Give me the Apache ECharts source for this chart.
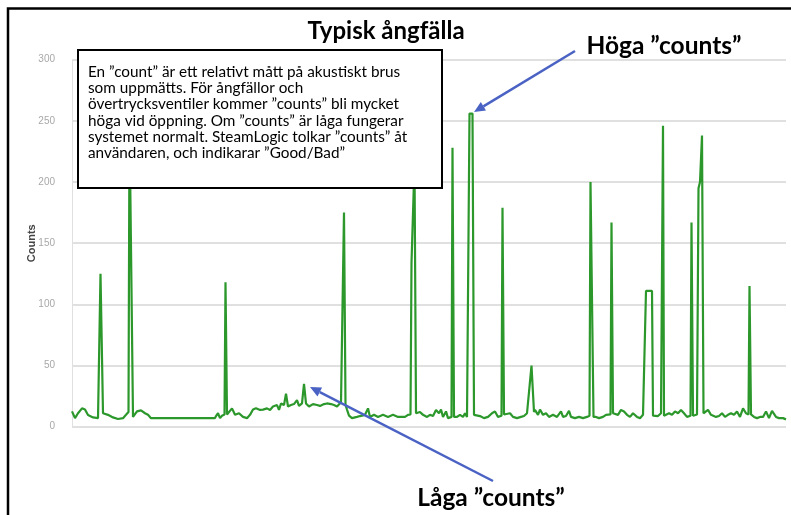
<!DOCTYPE html>
<html>
<head>
<meta charset="utf-8">
<script src="https://cdn.jsdelivr.net/npm/echarts@6/dist/echarts.min.js"></script>
<style>
html,body{margin:0;padding:0;background:#fff;}
#chart{width:791px;height:515px;}
</style>
</head>
<body>
<div id="chart"></div>
<script>
// Sample index (time) and acoustic counts
const sampleTime = [0,3,6,10,13,16,21,26,27.5,28.5,29.8,31,32,36,41,46,51,54,56.5,57.5,59.5,61,62,65,69,73,76,79,143,144,146,148,150,152.5,153.5,155,157,160,163,167,171,175,178,181,184,188,191,195,198,201,205,207,209,212,214,216,219,222,225,227,230,232,234,237,241,245,248,252,255,259,262,265,269,271,272,273.5,275,277,280,285,288,293,295,296,298,302,306,311,316,321,326,328,333,336,338.5,339.5,340.5,342.5,344,345,348,351,355,358,361,364,367,369,371,374,376,379.5,380.5,382,385,388,391,393,395,396.5,397.5,400.5,402,404,408,412,416,420,423,426,429.5,430.5,432,434,438,441,445,449,452,455,456.5,459.5,462,463,466,468,471,474,477,481,485,489,491,494,497,499,503,507,511,515,517.5,518.5,520,521.5,524,527,531,534,538.5,539.5,541,543,546,549,552,555,558,561,565,568,571,573,574,580,581,583,586,589,590,591,592,594,597,600,603,606,609,612,615,618.5,619.5,621,623,625,626.5,628,630,631.5,633,636,639,641,644,647,650,653,656,659,662,665,668,671,674,676.5,677.5,679,682,685,688,691,694,697,700,704,707,711,714];
const counts = [12.5,7,11,15,14,9.5,7.6,7,8,125,126,11,11.7,9.7,7.6,6.3,7,9.7,12,250,250,8,7,12.5,13.3,11,9.7,7,7,8.7,11,7,9,10,118,10,11,15,9.7,11,8,7,9.7,14,15,13.7,14,15,13.7,16.5,17.7,13.7,19,17.7,27,16.5,17.7,18.5,21.7,17,19,35,19,16.5,18.5,17.7,17,18.5,19,18.5,17.7,16.5,20,20,175,18,14,9,7,8,8.7,9.7,9,15,8,9.7,8,9.7,8,9.7,8,7,8,9.7,10,134,134,215,11,11,12,9.7,8,9.7,8.7,13.7,11,14,8,12.5,7,8,228,8,8,9.7,8,11,8,9,256,256,9.7,9.7,8.7,7,8,11,12.5,8,9,179,10,9.7,11,8,7,8,8.7,11,10,50,12,13.7,9.7,14,9.7,11,8,9.7,8,12.5,8,8.7,13,8,7,8,7,8,9,200,200,8,8,7,8,9.7,10,167,11,11,9.7,13.7,12.5,9.7,8,11,8,7,9.7,10,111,111,9,8,8.7,11,11,246,9,8,11,9.7,12.5,11,13.7,11,8,9,167,9,9.7,10,195,200,238,11,11,13.7,9.7,11,8,8.7,11,8,9.7,11,9.7,12.5,8,15,11,10,115,10,8,7,8,8,12.5,7,13,8,7,7,6];
const yTicks = [0, 50, 100, 150, 200, 250, 300];

const titleText = 'Typisk ångfälla';
const noteLines = [
  'En ”count” är ett relativt mått på akustiskt brus',
  'som uppmätts. För ångfällor och',
  'övertrycksventiler kommer ”counts” bli mycket',
  'höga vid öppning. Om ”counts” är låga fungerar',
  'systemet normalt. SteamLogic tolkar ”counts” åt',
  'användaren, och indikarar ”Good/Bad”'
];
const highLabel = 'Höga ”counts”';
const lowLabel = 'Låga ”counts”';

const chart = echarts.init(document.getElementById('chart'), null, {renderer: 'canvas'});
const seriesData = sampleTime.map((t, i) => [t, counts[i]]);

const arrowColor = '#4a62c4';
function arrow(x1, y1, x2, y2) {
  const ang = Math.atan2(y2 - y1, x2 - x1);
  const L = 11, W = 5;
  const bx = x2 - L * Math.cos(ang), by = y2 - L * Math.sin(ang);
  const px = -Math.sin(ang) * W, py = Math.cos(ang) * W;
  return [
    {type: 'line', z: 100, shape: {x1: x1, y1: y1, x2: bx, y2: by}, style: {stroke: arrowColor, lineWidth: 2.5}},
    {type: 'polygon', z: 100, shape: {points: [[x2, y2], [bx + px, by + py], [bx - px, by - py]]}, style: {fill: arrowColor}}
  ];
}

const option = {
  animation: false,
  backgroundColor: '#fff',
  grid: {left: 72, right: 5, top: 59.7, bottom: 88.3},
  xAxis: {
    type: 'value', min: 0, max: 714,
    axisLine: {show: false}, axisTick: {show: false}, axisLabel: {show: false}, splitLine: {show: false}
  },
  yAxis: {
    type: 'value', min: 0, max: 300, interval: 50,
    name: 'Counts', nameLocation: 'middle', nameGap: 35, nameRotate: 90, nameMoveOverlap: false,
    nameTextStyle: {color: '#444', fontSize: 11, fontWeight: 'bold', fontFamily: 'Liberation Sans Narrow, Liberation Sans'},
    axisLine: {show: true, lineStyle: {color: '#e0e0e0', width: 1}},
    axisTick: {show: false},
    axisLabel: {color: '#a8a8a8', fontSize: 10, margin: 17, fontFamily: 'Liberation Sans',
      formatter: v => yTicks.includes(v) ? String(v) : ''},
    splitLine: {lineStyle: {color: '#d6d6d6', width: 1.5}}
  },
  series: [{
    type: 'line', data: seriesData, symbol: 'none',
    lineStyle: {color: '#2c982c', width: 2.2},
    itemStyle: {color: '#2c982c'}
  }],
  graphic: [
    {type: 'polyline', z: 90, shape: {points: [[8, 515], [8, 8.5], [791, 8.5]]}, style: {stroke: '#000', lineWidth: 2.5, fill: null}},
    {type: 'text', z: 100, x: 386, y: 31, style: {text: titleText, fill: '#000', font: 'bold 24px Lato', textAlign: 'center', textVerticalAlign: 'middle'}},
    {type: 'rect', z: 100, shape: {x: 78, y: 50, width: 364, height: 138}, style: {fill: '#fff', stroke: '#000', lineWidth: 2}},
    {type: 'text', z: 101, x: 88, y: 64, style: {text: noteLines.join('\n'), fill: '#000', font: '15.3px Lato', lineHeight: 16.2, textVerticalAlign: 'top'}},
    {type: 'text', z: 100, x: 664, y: 46, style: {text: highLabel, fill: '#000', font: 'bold 24.5px Lato', textAlign: 'center', textVerticalAlign: 'middle'}},
    {type: 'text', z: 100, x: 491, y: 498, style: {text: lowLabel, fill: '#000', font: 'bold 24.5px Lato', textAlign: 'center', textVerticalAlign: 'middle'}},
    ...arrow(575, 51, 474, 112),
    ...arrow(493, 481, 310, 387)
  ]
};
chart.setOption(option);
</script>
</body>
</html>
